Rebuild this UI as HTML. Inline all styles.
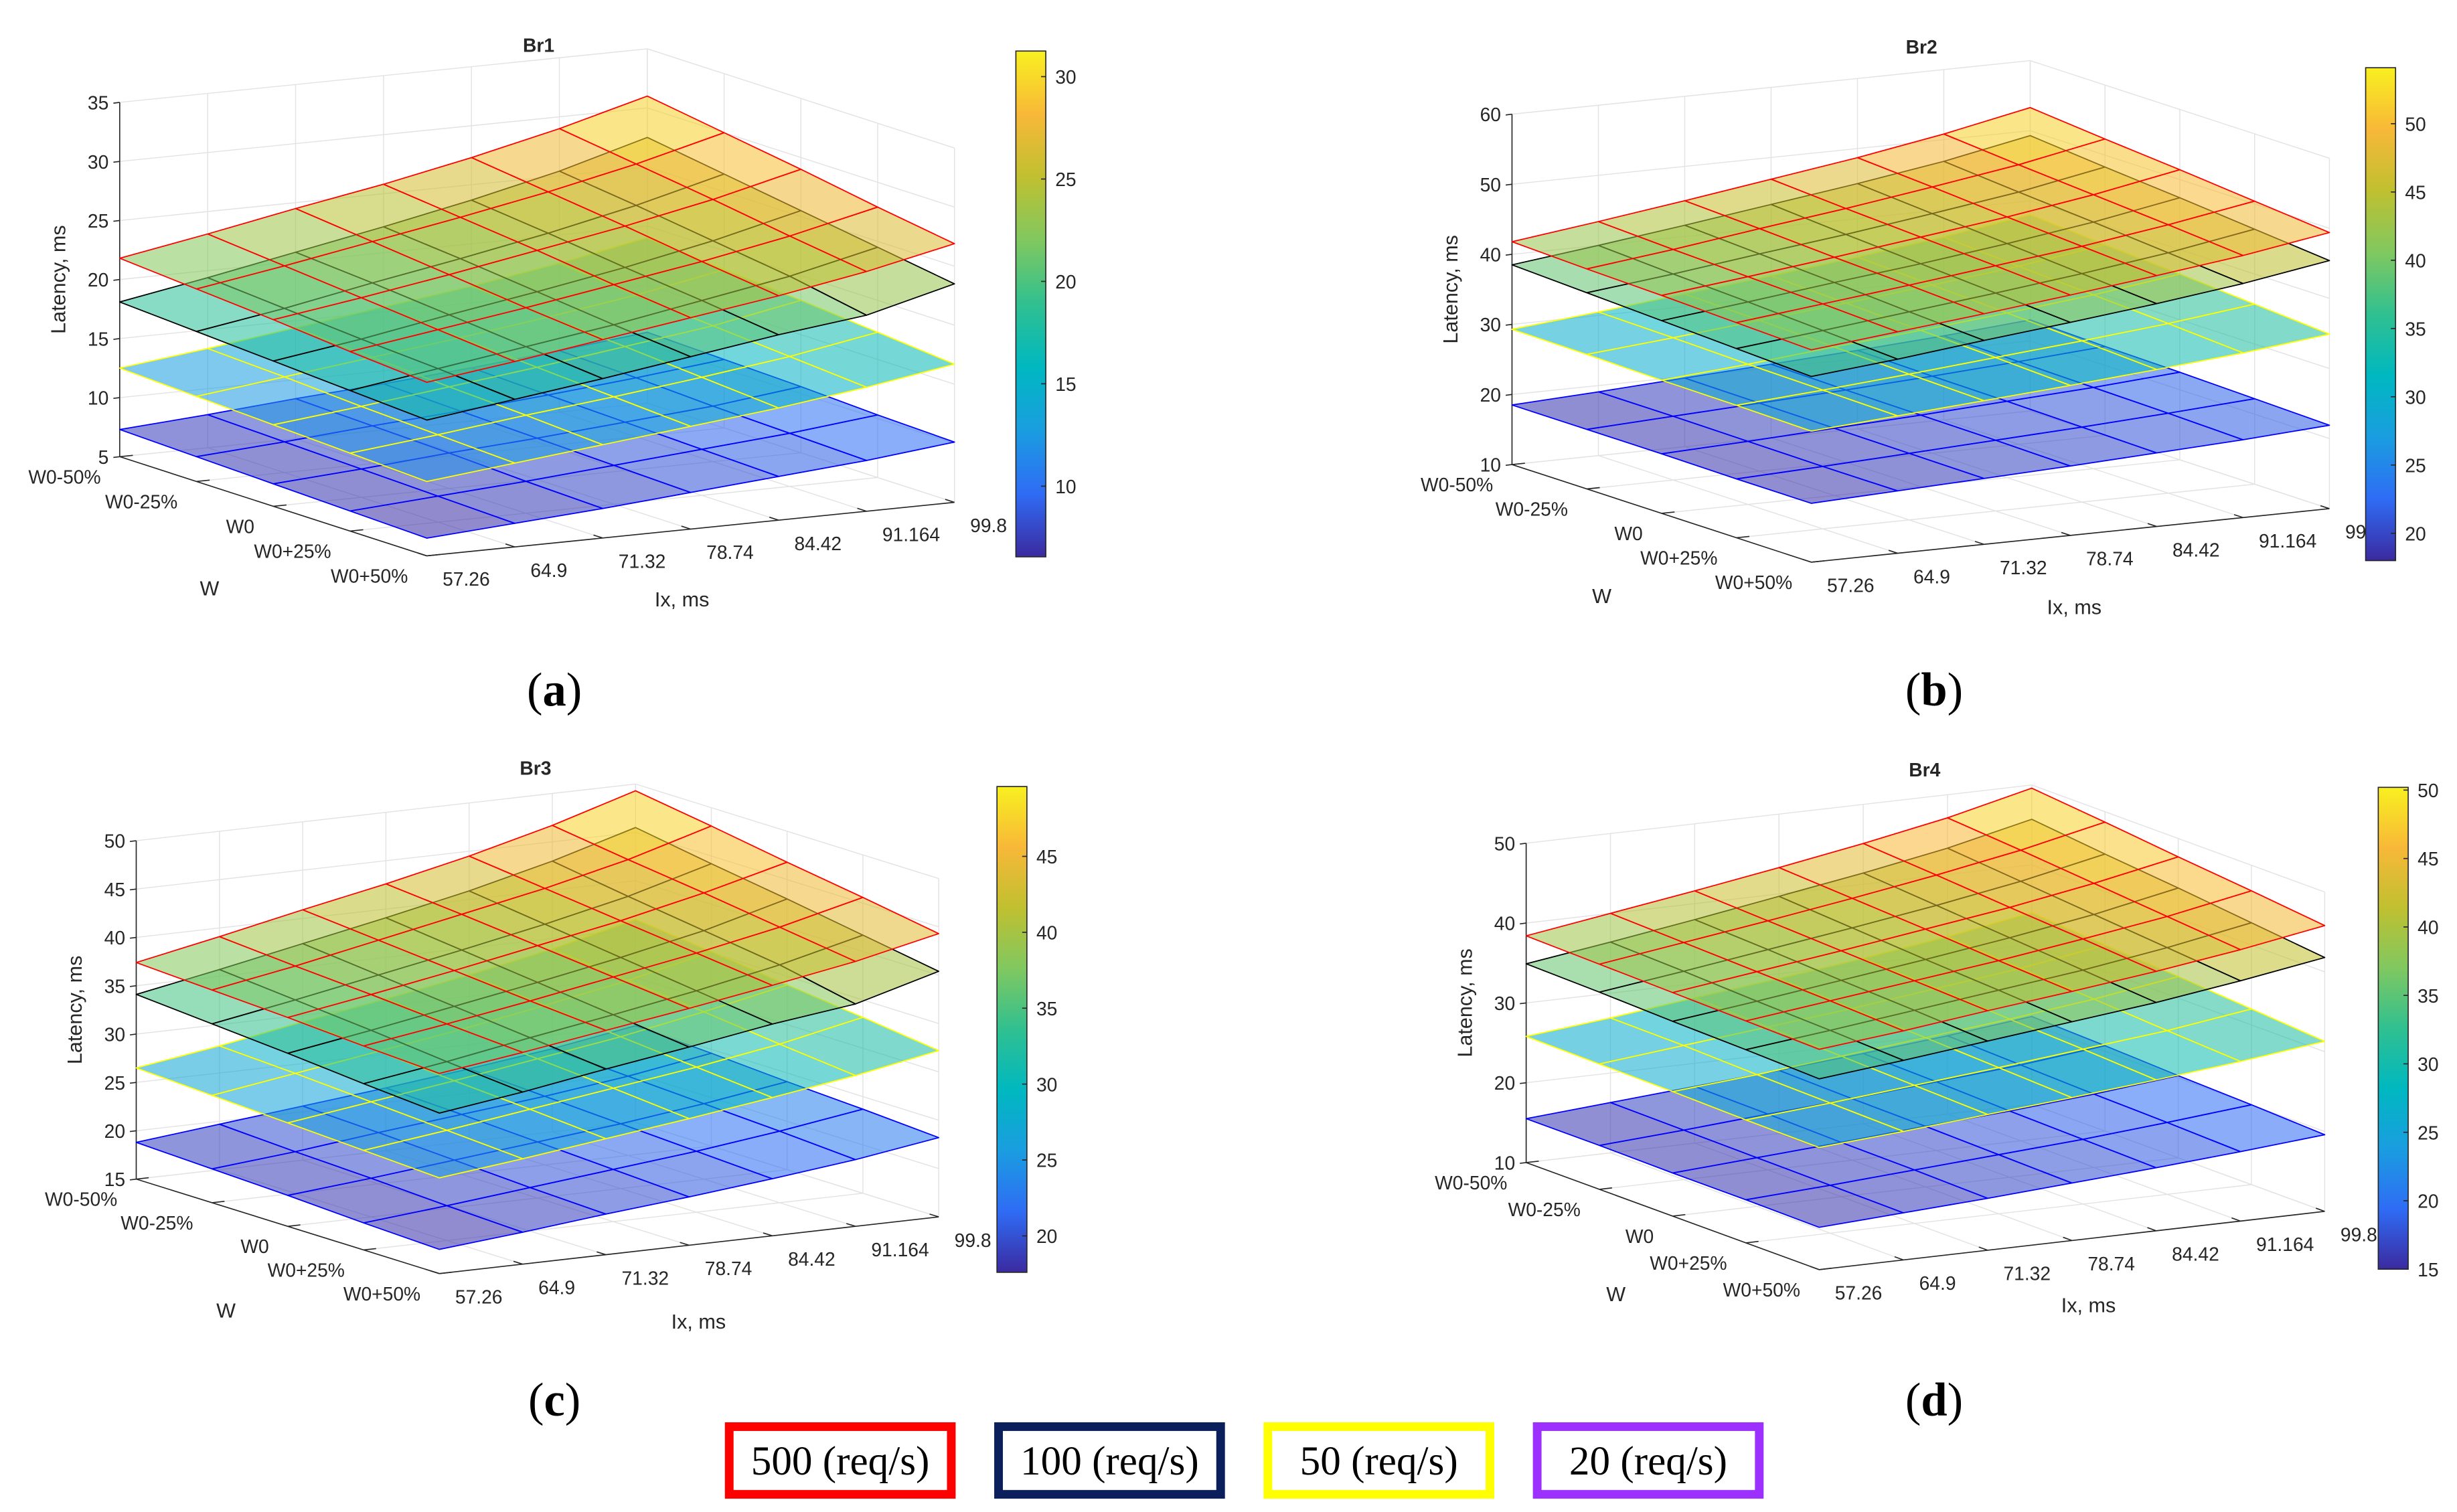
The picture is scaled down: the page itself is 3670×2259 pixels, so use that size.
<!DOCTYPE html>
<html><head><meta charset="utf-8"><title>Latency surfaces Br1–Br4</title>
<style>
html,body{margin:0;padding:0;background:#fff;}
svg{display:block;}
text{font-family:"Liberation Sans",Arial,sans-serif;fill:#262626;}
.ser{font-family:"Liberation Serif","Times New Roman",serif;fill:#000;}
</style></head>
<body>
<svg id="fig" xmlns="http://www.w3.org/2000/svg" width="3670" height="2259" viewBox="0 0 1560 960.2">
<rect x="0" y="0" width="1560" height="960.2" fill="#fff"/>
<g id="plots"></g>
<g id="legend">
  <g>
    <rect x="463" y="906" width="141" height="43" fill="#fff" stroke="#ff0000" stroke-width="5.5"/>
    <text class="ser" x="533.5" y="936.5" font-size="26" text-anchor="middle">500 (req/s)</text>
  </g>
  <g>
    <rect x="634" y="906" width="141" height="43" fill="#fff" stroke="#0b1f5c" stroke-width="5.5"/>
    <text class="ser" x="704.5" y="936.5" font-size="26" text-anchor="middle">100 (req/s)</text>
  </g>
  <g>
    <rect x="805" y="906" width="141" height="43" fill="#fff" stroke="#ffff00" stroke-width="5.5"/>
    <text class="ser" x="875.5" y="936.5" font-size="26" text-anchor="middle">50 (req/s)</text>
  </g>
  <g>
    <rect x="976" y="906" width="141" height="43" fill="#fff" stroke="#9b30ff" stroke-width="5.5"/>
    <text class="ser" x="1046.5" y="936.5" font-size="26" text-anchor="middle">20 (req/s)</text>
  </g>
</g>
</svg>
<script>
// ---- data (rows: W0-50% .. W0+50%, columns: Ix ticks) ----
const ixLabels = ['57.26','64.9','71.32','78.74','84.42','91.164','99.8'];
const wLabels = ['W0-50%','W0-25%','W0','W0+25%','W0+50%'];
const rateNames = ['20','50','100','500'];

const br1_500 = [[21.8,23.1,24.5,25.8,27.3,29.0,31.0],[21.3,22.5,23.8,25.1,26.5,28.1,30.0],[20.8,21.9,23.1,24.4,25.7,27.2,29.0],[20.2,21.3,22.4,23.6,24.8,26.2,27.9],[19.7,20.7,21.8,22.9,24.0,25.3,26.9]];
const br1_100 = [[18.1,19.4,20.8,22.2,23.7,25.4,27.5],[17.7,18.9,20.3,21.6,23.0,24.6,26.5],[17.3,18.4,19.7,20.9,22.2,23.7,25.5],[16.9,18.0,19.1,20.2,21.5,22.8,24.5],[16.5,17.5,18.5,19.6,20.7,21.6,23.5]];
const br1_50 = [[12.5,13.4,14.4,15.4,16.4,17.6,19.0],[12.2,13.1,14.0,14.9,15.9,17.0,18.4],[11.9,12.7,13.6,14.5,15.5,16.5,17.9],[11.6,12.4,13.3,14.1,15.0,16.0,17.3],[11.3,12.1,12.9,13.7,14.5,15.5,16.7]];
const br1_20 = [[7.3,7.8,8.4,8.9,9.5,10.2,11.0],[7.1,7.6,8.2,8.7,9.3,10.0,10.8],[6.9,7.4,8.0,8.5,9.1,9.7,10.6],[6.7,7.2,7.7,8.3,8.9,9.5,10.3],[6.5,7.0,7.5,8.1,8.7,9.3,10.1]];

const br2_500 = [[41.8,43.4,45.1,46.9,48.7,50.8,53.3],[41.4,42.9,44.6,46.2,48.0,49.9,52.3],[41.1,42.5,44.0,45.6,47.2,49.1,51.4],[40.7,42.1,43.5,45.0,46.5,48.3,50.4],[40.3,41.6,42.9,44.3,45.8,47.4,49.4]];
const br2_100 = [[38.5,40.0,41.6,43.3,45.0,46.9,49.3],[38.0,39.4,41.0,42.5,44.2,46.0,48.3],[37.5,38.9,40.4,41.8,43.4,45.2,47.4],[37.0,38.3,39.7,41.1,42.6,44.3,46.4],[36.5,37.7,39.1,40.4,41.8,43.4,45.4]];
const br2_50 = [[29.3,30.5,31.8,33.1,34.5,36.1,38.0],[29.2,30.3,31.5,32.7,34.0,35.4,37.2],[29.0,30.0,31.2,32.3,33.5,34.8,36.5],[28.9,29.8,30.8,31.9,33.0,34.2,35.7],[28.7,29.6,30.5,31.4,32.4,33.5,34.9]];
const br2_20 = [[18.5,19.1,19.8,20.5,21.2,22.0,23.0],[18.5,19.1,19.7,20.3,21.0,21.8,22.7],[18.5,19.0,19.6,20.2,20.9,21.6,22.5],[18.4,18.9,19.5,20.1,20.7,21.4,22.2],[18.4,18.9,19.4,19.9,20.5,21.1,21.9]];

const br3_500 = [[37.4,39.1,40.9,42.6,44.5,46.7,49.3],[37.0,38.5,40.2,41.9,43.6,45.6,48.1],[36.6,38.0,39.5,41.1,42.7,44.6,46.8],[36.1,37.4,38.8,40.3,41.8,43.5,45.6],[35.7,36.9,38.2,39.5,40.9,42.4,44.3]];
const br3_100 = [[34.1,35.7,37.4,39.1,40.9,43.0,45.5],[33.5,35.0,36.6,38.2,39.9,41.8,44.2],[32.9,34.3,35.8,37.3,38.9,40.7,43.0],[32.2,33.5,35.0,36.4,37.9,39.6,41.7],[31.6,32.8,34.2,35.5,36.9,38.0,40.4]];
const br3_50 = [[26.5,27.8,29.3,30.7,32.2,33.9,36.0],[26.1,27.4,28.7,30.0,31.5,33.1,35.1],[25.7,26.9,28.1,29.4,30.7,32.3,34.1],[25.3,26.4,27.6,28.8,30.0,31.4,33.2],[24.9,25.9,27.0,28.1,29.3,30.6,32.2]];
const br3_20 = [[18.8,19.7,20.6,21.5,22.5,23.6,25.0],[18.5,19.3,20.3,21.2,22.1,23.2,24.6],[18.2,19.0,19.9,20.8,21.7,22.8,24.1],[17.8,18.6,19.5,20.4,21.3,22.4,23.7],[17.5,18.3,19.2,20.0,20.9,21.9,23.2]];

const br4_500 = [[38.4,40.0,41.6,43.3,45.1,47.1,49.6],[38.2,39.7,41.2,42.8,44.5,46.4,48.7],[38.0,39.4,40.8,42.3,43.8,45.6,47.7],[37.8,39.1,40.4,41.7,43.2,44.8,46.8],[37.6,38.7,40.0,41.2,42.5,44.0,45.8]];
const br4_100 = [[34.9,36.4,38.0,39.7,41.4,43.3,45.7],[34.7,36.1,37.6,39.1,40.7,42.5,44.7],[34.4,35.7,37.1,38.5,40.0,41.7,43.8],[34.2,35.4,36.7,38.0,39.3,40.9,42.8],[33.9,35.0,36.2,37.4,38.6,40.1,41.8]];
const br4_50 = [[25.8,26.9,28.2,29.4,30.7,32.2,34.0],[25.7,26.8,27.9,29.0,30.3,31.6,33.3],[25.6,26.5,27.6,28.7,29.8,31.1,32.7],[25.4,26.3,27.3,28.3,29.4,30.5,32.0],[25.3,26.1,27.0,27.9,28.9,30.0,31.3]];
const br4_20 = [[15.5,16.3,17.1,17.9,18.8,19.8,21.0],[15.5,16.2,17.0,17.7,18.6,19.5,20.7],[15.4,16.1,16.8,17.6,18.3,19.2,20.3],[15.4,16.0,16.7,17.4,18.1,19.0,20.0],[15.3,15.9,16.5,17.2,17.9,18.7,19.6]];

const zTicks1 = [5,10,15,20,25,30,35];
const zTicks2 = [10,20,30,40,50,60];
const zTicks3 = [15,20,25,30,35,40,45,50];
const zTicks4 = [10,20,30,40,50];
const cbTicks1 = [10,15,20,25,30];
const cbTicks2 = [20,25,30,35,40,45,50];
const cbTicks3 = [20,25,30,35,40,45];
const cbTicks4 = [15,20,25,30,35,40,45,50];
const cbRange1 = [6.55,31.25];
const cbRange2 = [18.0,54.1];
const cbRange3 = [17.6,49.6];
const cbRange4 = [15.0,50.2];

// ---- layout config ----
const edgeColors = ['#0000ff','#ffff00','#000000','#ff0000'];
const panels = [
 {key:'br1',title:'Br1',O:[76,290],W:[195,63],I:[335,-34],zs:7.5,zt:zTicks1,cbt:cbTicks1,cbr:cbRange1,cb:[645,32.4,353.6],surf:[br1_20,br1_50,br1_100,br1_500],tp:[342,33],lab:'a',lp:[352,448]},
 {key:'br2',title:'Br2',O:[960,295],W:[190,62],I:[329,-34],zs:4.45,zt:zTicks2,cbt:cbTicks2,cbr:cbRange2,cb:[1502,43,356],surf:[br2_20,br2_50,br2_100,br2_500],tp:[1220,34],lab:'b',lp:[1228,448]},
 {key:'br3',title:'Br3',O:[86.5,748.8],W:[192.5,60],I:[317,-36],zs:6.14,zt:zTicks3,cbt:cbTicks3,cbr:cbRange3,cb:[633,499.5,808],surf:[br3_20,br3_50,br3_100,br3_500],tp:[340,492],lab:'c',lp:[352,899]},
 {key:'br4',title:'Br4',O:[969,738.3],W:[186,68],I:[321,-37],zs:5.07,zt:zTicks4,cbt:cbTicks4,cbr:cbRange4,cb:[1510,500,806],surf:[br4_20,br4_50,br4_100,br4_500],tp:[1222,493],lab:'d',lp:[1228,899]}
];

const parulaStops = [[59,42,160],[47,108,245],[26,157,224],[0,184,192],[48,192,144],[128,200,96],[192,192,48],[248,184,56],[248,240,32]];
function parula(f){
  f=Math.max(0,Math.min(1,f));
  const n=parulaStops.length-1, p=f*n, i=Math.min(n-1,Math.floor(p)), u=p-i;
  const a=parulaStops[i], b=parulaStops[i+1];
  return 'rgb('+a.map((v,k)=>Math.round(v+(b[k]-v)*u)).join(',')+')';
}
const NS='http://www.w3.org/2000/svg';
function mk(tag,attrs,parent){
  const e=document.createElementNS(NS,tag);
  for(const k in attrs) e.setAttribute(k,attrs[k]);
  parent.appendChild(e); return e;
}
const root=document.getElementById('plots');

panels.forEach(p=>{
  const zmin=p.zt[0], zmax=p.zt[p.zt.length-1];
  const nI=ixLabels.length-1, nW=wLabels.length-1;
  const P=(s,t,z)=>[p.O[0]+p.W[0]*s+p.I[0]*t, p.O[1]+p.W[1]*s+p.I[1]*t-(z-zmin)*p.zs];
  const g=mk('g',{},root);
  
  
  const line=(a,b,st,w,par)=>mk('line',{x1:a[0],y1:a[1],x2:b[0],y2:b[1],stroke:st,'stroke-width':w},par);
  const grid=mk('g',{},g);
  
  
  const gc='#e2e2e2';
  for(let j=0;j<=nI;j++){const t=j/nI; line(P(0,t,zmin),P(0,t,zmax),gc,0.6,grid); line(P(0,t,zmin),P(1,t,zmin),gc,0.6,grid);}
  for(let i=0;i<=nW;i++){const s=i/nW; line(P(s,1,zmin),P(s,1,zmax),gc,0.6,grid); line(P(s,0,zmin),P(s,1,zmin),gc,0.6,grid);}
  p.zt.forEach(z=>{line(P(0,0,z),P(0,1,z),gc,0.6,grid); line(P(0,1,z),P(1,1,z),gc,0.6,grid);});
  const ax=mk('g',{},g);
  
  
  const ac='#262626';
  line(P(0,0,zmin),P(0,0,zmax),ac,0.7,ax);
  p.zt.forEach(z=>{
    const q=P(0,0,z);
    line(q,[q[0]-4,q[1]+0.5],ac,0.7,ax);
    const tx=mk('text',{x:q[0]-7,y:q[1]+4.5,'font-size':12,'text-anchor':'end'},ax);
    
    
    tx.textContent=z;
  });
  line(P(0,0,zmin),P(1,0,zmin),ac,0.7,ax);
  wLabels.forEach((lb,i)=>{
    const s=i/nW, q=P(s,0,zmin);
    line(q,[q[0]+p.I[0]*0.025,q[1]+p.I[1]*0.025],ac,0.7,ax);
    const tx=mk('text',{x:q[0]-12,y:q[1]+17,'font-size':12,'text-anchor':'end'},ax);
    
    
    tx.textContent=lb;
  });
  line(P(1,0,zmin),P(1,1,zmin),ac,0.7,ax);
  ixLabels.forEach((lb,j)=>{
    const t=j/nI, q=P(1,t,zmin);
    line(q,[q[0]-p.W[0]*0.03,q[1]-p.W[1]*0.03],ac,0.7,ax);
    const tx=mk('text',{x:q[0]+10,y:q[1]+19,'font-size':12,'text-anchor':'start'},ax);
    
    
    tx.textContent=lb;
  });
  const zmidY=P(0,0,(zmin+zmax)/2)[1];
  const yl=mk('text',{x:p.O[0]-38,y:zmidY,'font-size':13,'text-anchor':'middle',transform:'rotate(-90 '+(p.O[0]-38)+' '+zmidY+')','dominant-baseline':'middle'},ax);
  
  
  yl.textContent='Latency, ms';
  const wl=mk('text',{x:p.O[0]+57,y:p.O[1]+88,'font-size':13,'text-anchor':'middle'},ax);
  
  
  wl.textContent='W';
  const il=mk('text',{x:p.O[0]+357,y:p.O[1]+95,'font-size':13,'text-anchor':'middle'},ax);
  
  
  il.textContent='Ix, ms';
  const tt=mk('text',{x:p.tp[0],y:p.tp[1],'font-size':12,'font-weight':'bold','text-anchor':'middle'},g);
  
  
  tt.textContent=p.title;
  const [lo,hi]=p.cbr;
  p.surf.forEach((grd,k)=>{
    const sg=mk('g',{},g);
    
    
    const quads=[];
    for(let i=0;i<nW;i++)for(let j=0;j<nI;j++)quads.push([i,j]);
    quads.sort((a,b)=>((b[1]-b[0])-(a[1]-a[0])));
    quads.forEach(([i,j])=>{
      const c=[[i,j],[i,j+1],[i+1,j+1],[i+1,j]];
      const pts=c.map(([a,b])=>P(a/nW,b/nI,grd[a][b]));
      const zm=c.reduce((acc,[a,b])=>acc+grd[a][b],0)/4;
      const poly=mk('polygon',{points:pts.map(q=>q.join(',')).join(' '),fill:parula((zm-lo)/(hi-lo)),'fill-opacity':0.56,stroke:edgeColors[k],'stroke-width':0.75,'stroke-linejoin':'round'},sg);
      
      
    });
  });
  const cg=mk('g',{},g);
  
  
  const gid='grad-'+p.key;
  const lg=mk('linearGradient',{id:gid,x1:0,y1:1,x2:0,y2:0},cg);
  parulaStops.forEach((c,i)=>mk('stop',{offset:(i/(parulaStops.length-1)),'stop-color':'rgb('+c.join(',')+')'},lg));
  const [cx,cy0,cy1]=p.cb, cw=19;
  mk('rect',{x:cx,y:cy0,width:cw,height:cy1-cy0,fill:'url(#'+gid+')',stroke:'#262626','stroke-width':0.7},cg);
  p.cbt.forEach(v=>{
    const y=cy1-(v-lo)/(hi-lo)*(cy1-cy0);
    line([cx+cw-3,y],[cx+cw,y],'#262626',0.7,cg);
    const tx=mk('text',{x:cx+cw+6,y:y+4.5,'font-size':12},cg);
    
    
    tx.textContent=v;
  });
  const pl=mk('text',{x:p.lp[0],y:p.lp[1],'font-size':30,'text-anchor':'middle',class:'ser'},g);
  
  
  pl.innerHTML='(<tspan font-weight="bold">'+p.lab+'</tspan>)';
});
</script>
</body></html>
